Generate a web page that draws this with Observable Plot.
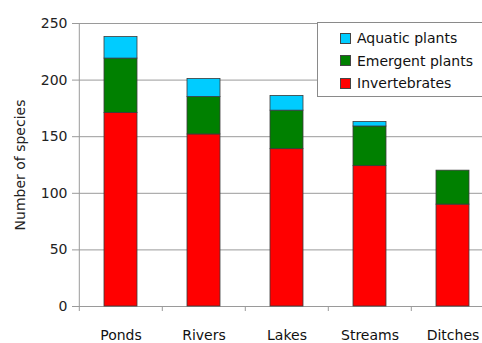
<!DOCTYPE html>
<html>
<head>
<meta charset="utf-8">
<script src="https://cdn.jsdelivr.net/npm/d3@7"></script>
<script src="https://cdn.jsdelivr.net/npm/@observablehq/plot@0.6"></script>
<style>
  html, body { margin: 0; padding: 0; background: #fff; }
  #wrap { position: relative; width: 482px; height: 343px; overflow: hidden; font-family: "DejaVu Sans", sans-serif; }
  #legend { position: absolute; left: 317px; top: 22px; width: 200px; height: 75px; border: 1px solid #8a8a8a; background: #fff; box-sizing: border-box; }
  .item { position: absolute; left: 22px; height: 14px; display: flex; align-items: center; font-size: 14px; color: #111; white-space: nowrap; }
  .sw { width: 11px; height: 11px; border: 1px solid #444; margin-right: 6px; box-sizing: border-box; }
</style>
</head>
<body>
<div id="wrap"><div id="chart"></div><div id="legend"></div></div>
<script>
const categories = ["Ponds", "Rivers", "Lakes", "Streams", "Ditches"];
const series = ["Invertebrates", "Emergent plants", "Aquatic plants"];
const invertebrates = [171, 152, 139, 124, 90];
const emergent = [48, 33, 34, 35, 30];
const aquatic = [19, 16, 13, 4, 0];
const colors = ["#ff0000", "#008000", "#00ccff"];
const yTicks = [0, 50, 100, 150, 200, 250];
const legendOrder = ["Aquatic plants", "Emergent plants", "Invertebrates"];

const values = [invertebrates, emergent, aquatic];
const data = [];
series.forEach((s, i) => categories.forEach((c, j) => data.push({category: c, series: s, value: values[i][j]})));

const xRange = [78, 495];
const step = (xRange[1] - xRange[0]) / categories.length;

const chart = Plot.plot({
  width: 482,
  height: 343,
  marginTop: 23,
  marginBottom: 37,
  marginLeft: 78,
  marginRight: 0,
  style: {fontFamily: "DejaVu Sans, sans-serif", fontSize: "14px", color: "#222", background: "#fff"},
  x: {domain: categories, range: xRange, paddingInner: 0.6, paddingOuter: 0.3, label: null},
  y: {domain: [0, 250], label: null},
  color: {domain: series, range: colors},
  marks: [
    Plot.ruleY(yTicks, {stroke: "#9a9a9a", strokeWidth: 1}),
    Plot.ruleX([categories[0]], {dx: -step / 2, y1: 0, y2: 250, stroke: "#9a9a9a"}),
    Plot.barY(data, {x: "category", y: "value", fill: "series", order: series, stroke: "#3a3a3a", strokeWidth: 0.8}),
    Plot.axisY({ticks: yTicks, tickSize: 6, tickPadding: 5, stroke: "#9a9a9a", fill: "#222", fontSize: 14}),
    Plot.axisX({tickSize: 5, dx: -step / 2, tickFormat: () => "", stroke: "#9a9a9a"}),
    Plot.axisX({tickSize: 0, tickPadding: 24, fill: "#111", fontSize: 14}),
    Plot.text(["Number of species"], {frameAnchor: "left", textAnchor: "middle", dx: -58, rotate: -90, fontSize: 14, fill: "#222"})
  ]
});
document.getElementById("chart").appendChild(chart);

const legend = document.getElementById("legend");
legendOrder.forEach((name, i) => {
  const item = document.createElement("div");
  item.className = "item";
  item.style.top = (8 + i * 22.5) + "px";
  const sw = document.createElement("div");
  sw.className = "sw";
  sw.style.background = colors[series.indexOf(name)];
  item.appendChild(sw);
  item.appendChild(document.createTextNode(name));
  legend.appendChild(item);
});
</script>
</body>
</html>
